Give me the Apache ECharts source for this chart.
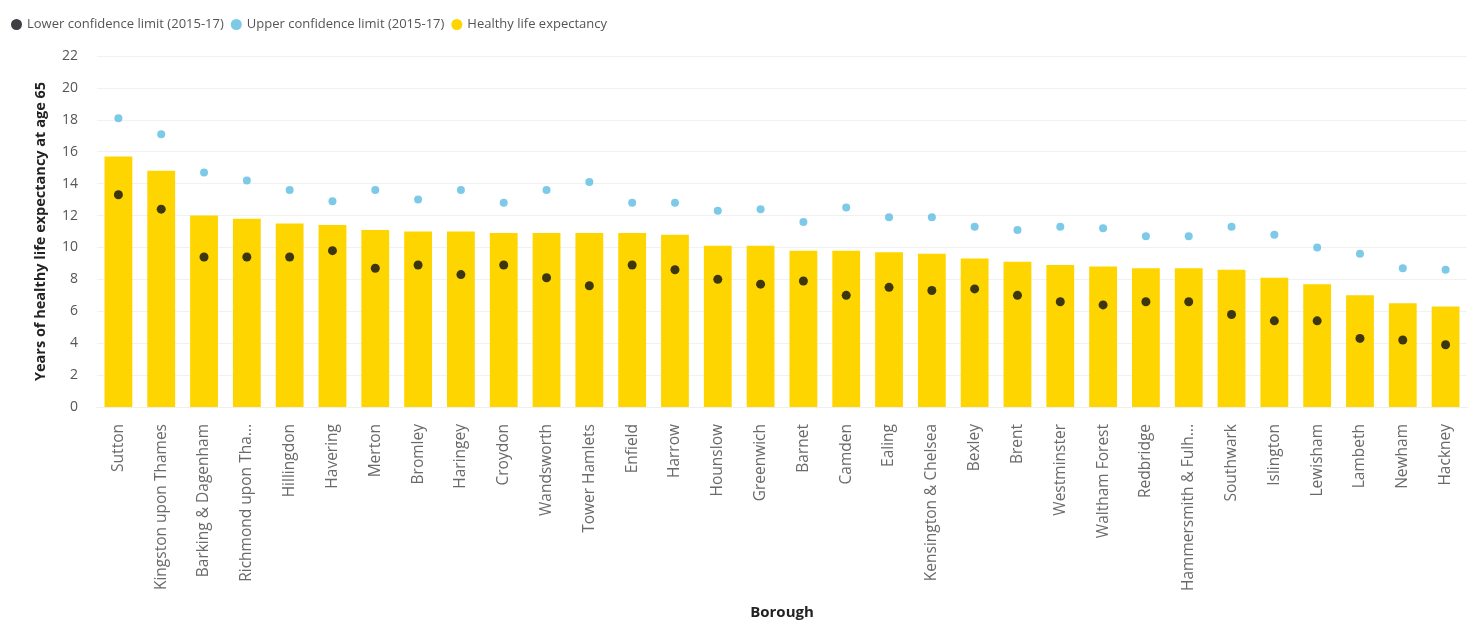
<!DOCTYPE html>
<html>
<head>
<meta charset="utf-8">
<script src="https://cdn.jsdelivr.net/npm/echarts@6/dist/echarts.min.js"></script>
<style>
  html, body { margin: 0; padding: 0; background: #fff; }
  #chart { width: 1479px; height: 625px; }
</style>
</head>
<body>
<div id="chart"></div>
<script>
// London boroughs, ordered by healthy life expectancy at 65
const boroughs = [
  'Sutton', 'Kingston upon Thames', 'Barking & Dagenham', 'Richmond upon Thames',
  'Hillingdon', 'Havering', 'Merton', 'Bromley', 'Haringey', 'Croydon',
  'Wandsworth', 'Tower Hamlets', 'Enfield', 'Harrow', 'Hounslow', 'Greenwich',
  'Barnet', 'Camden', 'Ealing', 'Kensington & Chelsea', 'Bexley', 'Brent',
  'Westminster', 'Waltham Forest', 'Redbridge', 'Hammersmith & Fulham',
  'Southwark', 'Islington', 'Lewisham', 'Lambeth', 'Newham', 'Hackney'
];

// Healthy life expectancy at 65 (years)
const healthyLifeExpectancy = [
  15.7, 14.8, 12.0, 11.8, 11.5, 11.4, 11.1, 11.0, 11.0, 10.9,
  10.9, 10.9, 10.9, 10.8, 10.1, 10.1, 9.8, 9.8, 9.7, 9.6,
  9.3, 9.1, 8.9, 8.8, 8.7, 8.7, 8.6, 8.1, 7.7, 7.0, 6.5, 6.3
];

// Lower confidence limit (2015-17)
const lowerLimit = [
  13.3, 12.4, 9.4, 9.4, 9.4, 9.8, 8.7, 8.9, 8.3, 8.9,
  8.1, 7.6, 8.9, 8.6, 8.0, 7.7, 7.9, 7.0, 7.5, 7.3,
  7.4, 7.0, 6.6, 6.4, 6.6, 6.6, 5.8, 5.4, 5.4, 4.3, 4.2, 3.9
];

// Upper confidence limit (2015-17)
const upperLimit = [
  18.1, 17.1, 14.7, 14.2, 13.6, 12.9, 13.6, 13.0, 13.6, 12.8,
  13.6, 14.1, 12.8, 12.8, 12.3, 12.4, 11.6, 12.5, 11.9, 11.9,
  11.3, 11.1, 11.3, 11.2, 10.7, 10.7, 11.3, 10.8, 10.0, 9.6, 8.7, 8.6
];

const yTicks = { min: 0, max: 22, interval: 2 };

const FONT = '"Open Sans", "Noto Sans", sans-serif';

const chart = echarts.init(document.getElementById('chart'), null, { renderer: 'canvas' });

chart.setOption({
  animation: false,
  textStyle: { fontFamily: FONT },
  legend: {
    left: 6,
    top: 13,
    icon: 'circle',
    itemWidth: 11,
    itemHeight: 11,
    itemGap: 7,
    textStyle: { fontSize: 13, color: '#555', fontFamily: FONT },
    data: ['Lower confidence limit (2015-17)', 'Upper confidence limit (2015-17)', 'Healthy life expectancy']
  },
  grid: { left: 97, right: 12, top: 56, bottom: 215, containLabel: false },
  xAxis: {
    type: 'category',
    data: boroughs,
    name: 'Borough',
    nameLocation: 'middle',
    nameGap: 198,
    nameTextStyle: { fontSize: 15, fontWeight: 'bold', color: '#222', fontFamily: FONT },
    axisLine: { show: true, lineStyle: { color: '#eeeeee' } },
    axisTick: { show: false },
    axisLabel: {
      rotate: 90,
      margin: 17,
      fontSize: 15.5,
      color: '#6a6a6a',
      fontFamily: FONT,
      width: 172,
      overflow: 'truncate',
      ellipsis: '...'
    }
  },
  yAxis: {
    type: 'value',
    min: yTicks.min,
    max: yTicks.max,
    interval: yTicks.interval,
    name: 'Years of healthy life expectancy at age 65',
    nameLocation: 'middle',
    nameGap: 49,
    nameTextStyle: { fontSize: 14.5, fontWeight: 'bold', color: '#222', fontFamily: FONT },
    axisLine: { show: false },
    axisTick: { show: false },
    axisLabel: { margin: 19, fontSize: 14, color: '#555', fontFamily: FONT },
    splitLine: { show: true, lineStyle: { color: '#f1f1f1', width: 1 } }
  },
  series: [
    {
      name: 'Lower confidence limit (2015-17)',
      type: 'scatter',
      data: lowerLimit,
      symbol: 'circle',
      symbolSize: 9,
      itemStyle: { color: '#0d0f14' },
      z: 4
    },
    {
      name: 'Upper confidence limit (2015-17)',
      type: 'scatter',
      data: upperLimit,
      symbol: 'circle',
      symbolSize: 8,
      itemStyle: { color: '#5dbde2' },
      z: 4
    },
    {
      name: 'Healthy life expectancy',
      type: 'bar',
      data: healthyLifeExpectancy,
      barCategoryGap: '35%',
      itemStyle: { color: '#ffd500' },
      z: 2
    }
  ]
});
</script>
</body>
</html>
